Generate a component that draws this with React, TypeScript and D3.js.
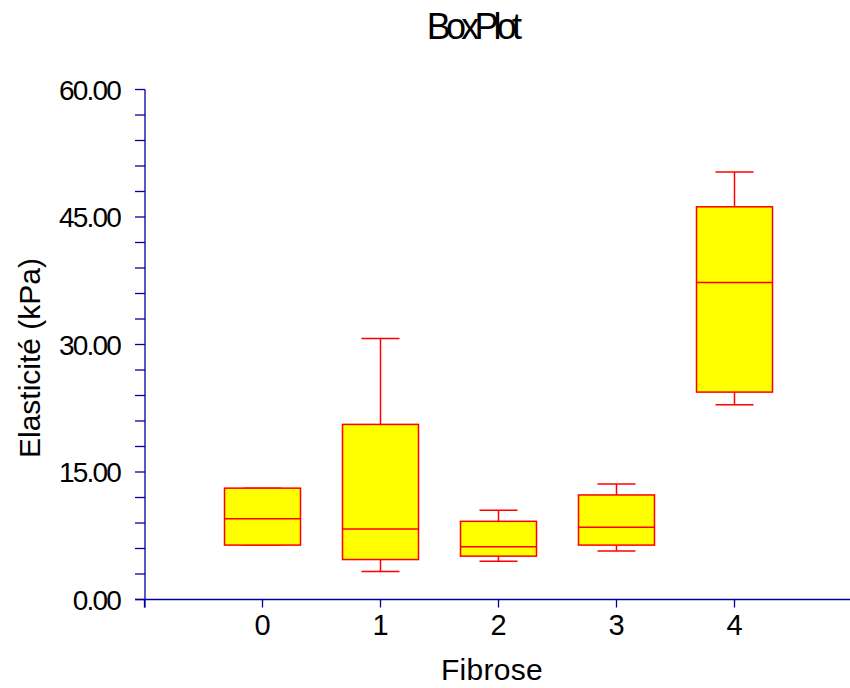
import React from "react";
import * as d3 from "d3";

// Fibrose stage groups and their box statistics (kPa)
const categories = ["0", "1", "2", "3", "4"];
const minValues = [6.4, 3.3, 4.5, 5.7, 22.9];
const q1Values = [6.4, 4.7, 5.1, 6.4, 24.4];
const medianValues = [9.5, 8.3, 6.2, 8.5, 37.3];
const q3Values = [13.1, 20.6, 9.2, 12.3, 46.2];
const maxValues = [13.1, 30.7, 10.5, 13.6, 50.3];

const yMajorTicks = [0, 15, 30, 45, 60];
const yMinorStep = 3;

const title = "BoxPlot";
const xTitle = "Fibrose";
const yTitle = "Elasticité (kPa)";

const W = 850;
const H = 688;
const FONT = "'Liberation Sans', Arial, Helvetica, sans-serif";
const AXIS = "#0000a0";

export default function App() {
  const x = d3.scaleLinear().domain([-1, 5]).range([144.5, 852.5]);
  const y = d3.scaleLinear().domain([0, 60]).range([599.5, 89.5]);

  const boxHalf = 38;
  const capHalf = 19;

  const minorTicks = d3.range(0, 60 + 1e-9, yMinorStep);
  const xTickVals = [-1, ...categories.map((c) => +c)];

  const xLeft = 145;
  const xRight = 850;

  return (
    <svg
      width={W}
      height={H}
      viewBox={`0 0 ${W} ${H}`}
      style={{ position: "absolute", left: 0, top: 0, background: "#fff" }}
      fontFamily={FONT}
    >
      {/* title */}
      <text
        x={472}
        y={39}
        fontSize={36}
        letterSpacing={-4.8}
        textAnchor="middle"
        fill="#000"
      >
        {title}
      </text>

      {/* boxes */}
      {categories.map((c, i) => {
        const cx = x(+c);
        return (
          <g key={c} stroke="#ff0000" strokeWidth={1.5} fill="none">
            <line x1={cx} x2={cx} y1={y(maxValues[i])} y2={y(q3Values[i])} />
            <line x1={cx} x2={cx} y1={y(q1Values[i])} y2={y(minValues[i])} />
            <line
              x1={cx - capHalf}
              x2={cx + capHalf}
              y1={y(maxValues[i])}
              y2={y(maxValues[i])}
            />
            <line
              x1={cx - capHalf}
              x2={cx + capHalf}
              y1={y(minValues[i])}
              y2={y(minValues[i])}
            />
            <rect
              x={cx - boxHalf}
              y={y(q3Values[i])}
              width={boxHalf * 2}
              height={y(q1Values[i]) - y(q3Values[i])}
              fill="#ffff00"
            />
            <line
              x1={cx - boxHalf}
              x2={cx + boxHalf}
              y1={y(medianValues[i])}
              y2={y(medianValues[i])}
            />
          </g>
        );
      })}

      {/* y axis */}
      <g stroke={AXIS} strokeWidth={1.3}>
        <line x1={xLeft} x2={xLeft} y1={y(60)} y2={y(0) + 8} />
        {minorTicks.map((t) => (
          <line key={t} x1={xLeft - 10} x2={xLeft} y1={y(t)} y2={y(t)} />
        ))}
      </g>
      {yMajorTicks.map((t) => (
        <text
          key={t}
          x={120}
          y={y(t) + 10}
          fontSize={28}
          letterSpacing={-1.8}
          textAnchor="end"
          fill="#000"
        >
          {t.toFixed(2)}
        </text>
      ))}

      {/* x axis */}
      <g stroke={AXIS} strokeWidth={1.3}>
        <line x1={xLeft - 10} x2={xRight} y1={y(0)} y2={y(0)} />
        {xTickVals.map((t) => (
          <line key={t} x1={x(t)} x2={x(t)} y1={y(0)} y2={y(0) + 8} />
        ))}
      </g>
      {categories.map((c) => (
        <text
          key={c}
          x={x(+c)}
          y={635}
          fontSize={29}
          textAnchor="middle"
          fill="#000"
        >
          {c}
        </text>
      ))}

      {/* axis titles */}
      <text x={492} y={680} fontSize={30} letterSpacing={0.3} textAnchor="middle" fill="#000">
        {xTitle}
      </text>
      <text
        transform={`translate(40, 358) rotate(-90)`}
        fontSize={30}
        textAnchor="middle"
        fill="#000"
      >
        {yTitle}
      </text>
    </svg>
  );
}
